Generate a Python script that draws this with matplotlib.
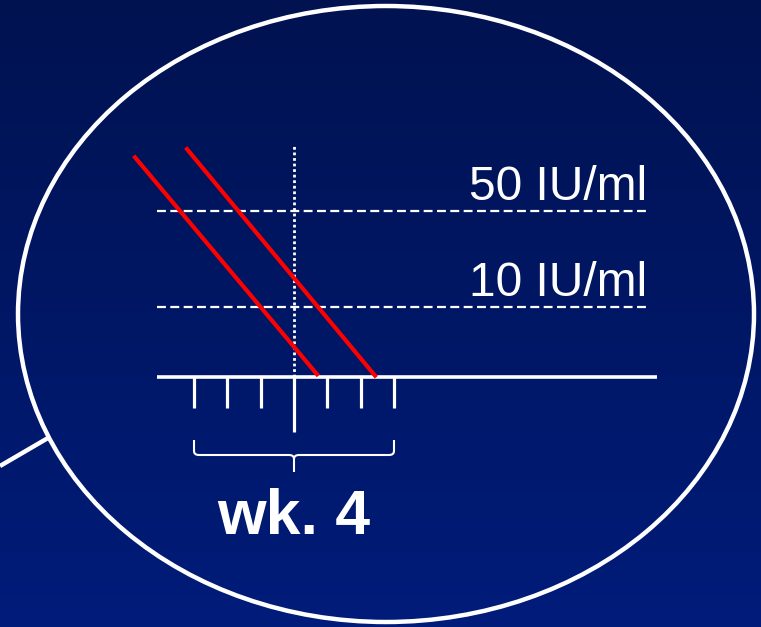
import numpy as np
import matplotlib
matplotlib.use("Agg")
import matplotlib.pyplot as plt
from matplotlib.patches import Ellipse, PathPatch
from matplotlib.path import Path

plt.rcParams["font.family"] = ["Liberation Sans", "DejaVu Sans"]

# x = weeks, y = log10 IU/ml (schematic)
weeks = [1, 2, 3, 4, 5, 6, 7]
label_week = 4
thresholds = [50, 10]
threshold_labels = ["50 IU/ml", "10 IU/ml"]
baseline_y = 0.49
axis_x = [-0.1, 14.9]
dash_x = [-0.1, 14.65]
# decline lines: (start week, start log), (end week, end log)
decline_1_x = [-0.77, 4.69]
decline_1_y = [2.09, 0.51]
decline_2_x = [0.79, 6.43]
decline_2_y = [2.15, 0.50]
vline_top = 2.18

px_w = 33.33    # pixels per week
px_dec = 137.3  # pixels per decade

fig = plt.figure(figsize=(7.61, 6.27), dpi=100)
ax = fig.add_axes([0, 0, 1, 1])
x0 = 4 - 294 / px_w
x1 = 4 + (761 - 294) / px_w
y0 = 1 - (627 - 307) / px_dec
y1 = 1 + 307 / px_dec
ax.set_xlim(x0, x1)
ax.set_ylim(y0, y1)
ax.axis("off")

# background gradient
grad = np.linspace(0, 1, 256)[:, None]
top = np.array([0, 18, 80]) / 255
bot = np.array([0, 28, 122]) / 255
img = top + (bot - top) * grad[..., None]
ax.imshow(img, extent=[x0, x1, y0, y1], aspect="auto", origin="upper", zorder=0)

# bubble and callout
ax.add_patch(Ellipse((386 / 761, 1 - 314 / 627), 736 / 761, 616 / 627,
                     transform=ax.transAxes, fill=False, ec="white", lw=3.2, zorder=2))
ax.plot([0, 48 / 761], [1 - 466 / 627, 1 - 438 / 627], transform=ax.transAxes,
        color="white", lw=3.2, zorder=2, solid_capstyle="butt")

# threshold lines and labels
for val, lab in zip(thresholds, threshold_labels):
    y = np.log10(val)
    ax.plot(dash_x, [y, y], color="white", lw=1.6, dashes=(4, 2), zorder=3)
    ax.text(dash_x[1] - 0.05, y + 11 / px_dec, lab, color="white", fontsize=34.5,
            ha="right", va="baseline", zorder=4)

# week 4 dotted marker
ax.plot([label_week, label_week], [baseline_y, vline_top], color="white",
        lw=2, dashes=(1, 1), zorder=3)

# red decline lines
ax.plot(decline_1_x, decline_1_y, color="#ff0000", lw=3, zorder=5)
ax.plot(decline_2_x, decline_2_y, color="#ff0000", lw=3, zorder=5)

# time axis and ticks
ax.plot(axis_x, [baseline_y, baseline_y], color="white", lw=2.6, zorder=4,
        solid_capstyle="butt")
for w in weeks:
    ln = 55 if w == label_week else 31
    ax.plot([w, w], [baseline_y, baseline_y - ln / px_dec], color="white",
            lw=2.3, zorder=4, solid_capstyle="butt")

# brace under ticks
bl, br = weeks[0], weeks[-1]
bm = label_week
ytop = 1 - (440 - 307) / px_dec
ymid = 1 - (455 - 307) / px_dec
ytip = 1 - (472 - 307) / px_dec
r = 0.15
dy = 4 / px_dec
verts = [(bl, ytop), (bl, ymid + dy), (bl, ymid), (bl + r, ymid),
         (bm - r, ymid), (bm, ymid), (bm, ymid - dy), (bm, ytip)]
codes = [Path.MOVETO, Path.LINETO, Path.CURVE3, Path.CURVE3,
         Path.LINETO, Path.CURVE3, Path.CURVE3, Path.LINETO]
verts2 = [(br, ytop), (br, ymid + dy), (br, ymid), (br - r, ymid),
          (bm + r, ymid), (bm, ymid), (bm, ymid - dy)]
codes2 = [Path.MOVETO, Path.LINETO, Path.CURVE3, Path.CURVE3,
          Path.LINETO, Path.CURVE3, Path.CURVE3]
for v, c in [(verts, codes), (verts2, codes2)]:
    ax.add_patch(PathPatch(Path(v, c), fill=False, ec="white", lw=1.5, zorder=4))

ax.text(bm, 1 - (517 - 307) / px_dec, "wk. 4", color="white", fontsize=45,
        fontweight="bold", ha="center", va="center", zorder=4)

fig.savefig("out.png", dpi=100)
